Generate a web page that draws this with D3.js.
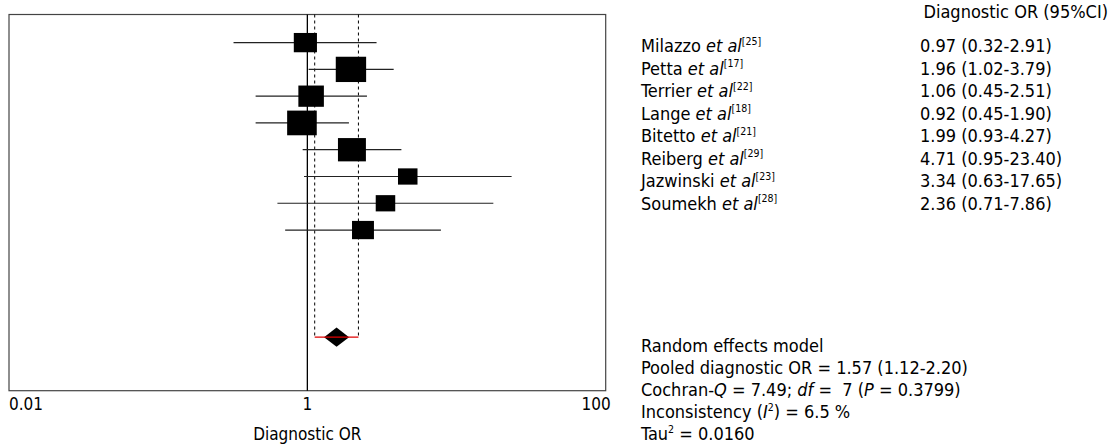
<!DOCTYPE html>
<html>
<head>
<meta charset="utf-8">
<script src="https://cdn.jsdelivr.net/npm/d3@7"></script>
<style>
  html, body { margin: 0; padding: 0; background: #fff; }
  svg text { font-family: "DejaVu Sans Condensed", "DejaVu Sans", sans-serif; font-stretch: condensed; fill: #000; }
</style>
</head>
<body>
<svg id="chart" width="1111" height="445"></svg>
<script>
// ---- data ----
const studies = ["Milazzo", "Petta", "Terrier", "Lange", "Bitetto", "Reiberg", "Jazwinski", "Soumekh"];
const refs = ["25", "17", "22", "18", "21", "29", "23", "28"];
const orValues = [0.97, 1.96, 1.06, 0.92, 1.99, 4.71, 3.34, 2.36];
const ciLow = [0.32, 1.02, 0.45, 0.45, 0.93, 0.95, 0.63, 0.71];
const ciHigh = [2.91, 3.79, 2.51, 1.90, 4.27, 23.40, 17.65, 7.86];
const weights = [10.7, 18.4, 13.0, 17.5, 15.6, 7.6, 7.6, 9.6];
const ciLabels = ["0.97 (0.32-2.91)", "1.96 (1.02-3.79)", "1.06 (0.45-2.51)", "0.92 (0.45-1.90)",
                  "1.99 (0.93-4.27)", "4.71 (0.95-23.40)", "3.34 (0.63-17.65)", "2.36 (0.71-7.86)"];
const pooled = { or: 1.57, lo: 1.12, hi: 2.20 };
const xTicks = [0.01, 1, 100];
const xTickLabels = ["0.01", "1", "100"];

const svg = d3.select("#chart");
const axisFont = 17;
const tableFont = 18;

// ---- scales ----
const x = d3.scaleLog().domain([0.01, 100]).range([9, 605.7]);
const y = d3.scaleLinear().domain([-1.05, 13]).range([14.5, 390.7]);
const size = d3.scaleSqrt().domain([0, d3.max(weights)]).range([0, 25.3]);
const pooledRow = 11;

// ---- frame ----
svg.append("rect")
  .attr("x", x.range()[0]).attr("y", y.range()[0])
  .attr("width", x.range()[1] - x.range()[0])
  .attr("height", y.range()[1] - y.range()[0])
  .attr("fill", "none").attr("stroke", "#444").attr("stroke-width", 1.2);

// null line at 1
svg.append("line")
  .attr("x1", x(1)).attr("x2", x(1))
  .attr("y1", y.range()[0]).attr("y2", y.range()[1])
  .attr("stroke", "#000").attr("stroke-width", 1.3);

// dashed pooled CI lines
[pooled.lo, pooled.hi].forEach(v => {
  svg.append("line")
    .attr("x1", x(v)).attr("x2", x(v))
    .attr("y1", y.range()[0]).attr("y2", y(pooledRow))
    .attr("stroke", "#000").attr("stroke-width", 1)
    .attr("stroke-dasharray", "3,3");
});

// whiskers
const rows = studies.map((s, i) => ({ i, s, or: orValues[i], lo: ciLow[i], hi: ciHigh[i], w: weights[i] }));
svg.append("g").selectAll("line").data(rows).join("line")
  .attr("x1", d => x(d.lo)).attr("x2", d => x(d.hi))
  .attr("y1", d => y(d.i)).attr("y2", d => y(d.i))
  .attr("stroke", "#222").attr("stroke-width", 1.2);

// squares
svg.append("g").selectAll("rect").data(rows).join("rect")
  .attr("x", d => x(d.or) - size(d.w) * 0.6)
  .attr("y", d => y(d.i) - size(d.w) / 2)
  .attr("width", d => size(d.w) * 1.2)
  .attr("height", d => size(d.w))
  .attr("fill", "#000");

// pooled diamond
const dcx = x(pooled.or), dcy = y(pooledRow), dw = 12.5, dh = 9.7;
svg.append("path")
  .attr("d", `M${dcx - dw},${dcy}L${dcx},${dcy - dh}L${dcx + dw},${dcy}L${dcx},${dcy + dh}Z`)
  .attr("fill", "#000");
svg.append("line")
  .attr("x1", x(pooled.lo)).attr("x2", x(pooled.hi))
  .attr("y1", dcy).attr("y2", dcy)
  .attr("stroke", "#e00000").attr("stroke-width", 1.2);

// x tick labels
xTicks.forEach((t, k) => {
  const anchor = k === 0 ? "start" : (k === xTicks.length - 1 ? "end" : "middle");
  const dx = k === xTicks.length - 1 ? 5 : 0;
  svg.append("text")
    .attr("x", x(t) + dx).attr("y", 410)
    .attr("text-anchor", anchor)
    .attr("font-size", axisFont)
    .text(xTickLabels[k]);
});
svg.append("text")
  .attr("x", x(1)).attr("y", 440)
  .attr("text-anchor", "middle").attr("font-size", axisFont)
  .text("Diagnostic OR");

// right-hand table
const nameX = 641, valX = 920, headerRight = 1108;
const rowY0 = 52, rowStep = 22.5;
svg.append("text")
  .attr("x", headerRight).attr("y", 18)
  .attr("text-anchor", "end").attr("font-size", tableFont)
  .text("Diagnostic OR (95%CI)");

rows.forEach(d => {
  const t = svg.append("text")
    .attr("x", nameX).attr("y", rowY0 + d.i * rowStep)
    .attr("font-size", tableFont);
  t.append("tspan").text(d.s + " ");
  t.append("tspan").attr("font-style", "italic").text("et al");
  t.append("tspan").attr("font-size", 10.5).attr("dy", -7.5).text("[" + refs[d.i] + "]");
  svg.append("text")
    .attr("x", valX).attr("y", rowY0 + d.i * rowStep)
    .attr("font-size", tableFont)
    .text(ciLabels[d.i]);
});

// summary block
const sumY0 = 352, sumStep = 22;
const summary = [
  [["Random effects model", null]],
  [["Pooled diagnostic OR = 1.57 (1.12-2.20)", null]],
  [["Cochran-", null], ["Q", "i"], [" = 7.49; ", null], ["df", "i"], [" =  7 (", null], ["P", "i"], [" = 0.3799)", null]],
  [["Inconsistency (", null], ["I", "i"], ["2", "sup"], [") = 6.5 %", null]],
  [["Tau", null], ["2", "sup"], [" = 0.0160", null]]
];
summary.forEach((parts, li) => {
  const t = svg.append("text")
    .attr("x", nameX).attr("y", sumY0 + li * sumStep)
    .attr("font-size", tableFont)
    .attr("xml:space", "preserve")
    .style("white-space", "pre");
  let raised = false;
  parts.forEach(([str, kind]) => {
    const sp = t.append("tspan").text(str);
    if (kind === "i") sp.attr("font-style", "italic");
    if (kind === "sup") { sp.attr("font-size", 10.5).attr("dy", -7.5); raised = true; }
    else if (raised) { sp.attr("dy", 7.5); raised = false; }
  });
});
</script>
</body>
</html>
